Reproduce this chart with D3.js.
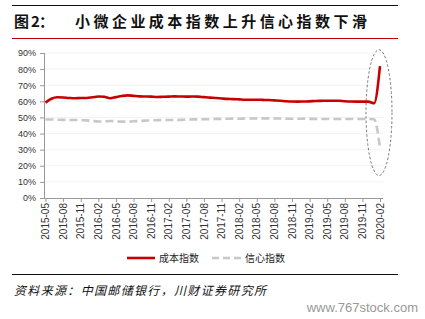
<!DOCTYPE html>
<html>
<head>
<meta charset="utf-8">
<script src="https://cdn.jsdelivr.net/npm/d3@7"></script>
<style>
  html, body { margin: 0; padding: 0; background: #fff; }
  svg { display: block; }
  .cjk { font-family: "Noto Sans CJK SC", sans-serif; }
  .axis text { font-family: "Liberation Sans", Arial, sans-serif; font-size: 9px; fill: #333; }
  .axis line { stroke: #999; }
</style>
</head>
<body>
<div id="chart"></div>
<script>
// monthly, 2015-05 .. 2020-02
var months = [];
for (var yr = 2015; yr <= 2020; yr++) {
  for (var m = 1; m <= 12; m++) {
    if (yr === 2015 && m < 5) continue;
    if (yr === 2020 && m > 2) break;
    months.push(yr + "-" + (m < 10 ? "0" + m : m));
  }
}

var costIndex = [
  59.2, 61.6, 62.5, 62.4, 62.1, 61.9, 62.1, 62.1, 62.5, 63.0,
  62.8, 61.9, 62.6, 63.3, 63.7, 63.4, 63.1, 63.0, 62.9, 62.7,
  62.8, 62.9, 63.1, 63.0, 62.9, 63.0, 62.9, 62.6, 62.3, 62.1,
  61.8, 61.5, 61.4, 61.2, 61.0, 61.0, 61.0, 60.9, 60.8, 60.6,
  60.4, 60.1, 59.9, 59.8, 59.9, 60.0, 60.2, 60.3, 60.4, 60.4,
  60.4, 60.1, 59.9, 59.8, 59.8, 59.8, 58.8, 81.9
];

var confIndex = [
  48.7, 48.7, 48.6, 48.5, 48.4, 48.4, 48.3, 48.2, 47.8, 47.5,
  47.5, 47.8, 47.6, 47.4, 47.4, 47.6, 47.8, 48.0, 48.2, 48.3,
  48.4, 48.4, 48.4, 48.5, 48.7, 48.8, 48.8, 48.9, 48.9, 49.1,
  49.1, 49.2, 49.2, 49.2, 49.3, 49.3, 49.4, 49.4, 49.4, 49.3,
  49.3, 49.2, 49.2, 49.2, 49.2, 49.1, 49.1, 49.0, 49.0, 49.0,
  49.0, 49.0, 49.0, 49.0, 49.0, 49.0, 48.9, 31.2
];

var yTicks = [0, 10, 20, 30, 40, 50, 60, 70, 80, 90];
var seriesNames = ["成本指数", "信心指数"];
var titleNo = "图 2：";
var titleText = "小微企业成本指数上升信心指数下滑";
var sourceText = "资料来源：中国邮储银行，川财证券研究所";
var watermark = "www.767stock.com";

var W = 425, H = 319;
var svg = d3.select("#chart").append("svg").attr("width", W).attr("height", H);

// header rules and title
svg.append("line").attr("x1", 12).attr("x2", 398).attr("y1", 5.5).attr("y2", 5.5)
  .attr("stroke", "#111").attr("stroke-width", 1.2);
svg.append("line").attr("x1", 12).attr("x2", 398).attr("y1", 38.5).attr("y2", 38.5)
  .attr("stroke", "#c00000").attr("stroke-width", 1.2);
svg.append("text").attr("class", "cjk").attr("x", 14).attr("y", 27)
  .attr("font-size", 15).attr("font-weight", "bold").attr("fill", "#111")
  .attr("textLength", 40).attr("lengthAdjust", "spacing")
  .text(titleNo);
svg.append("text").attr("class", "cjk").attr("x", 75).attr("y", 27)
  .attr("font-size", 15).attr("font-weight", "bold").attr("fill", "#111")
  .attr("textLength", 292).attr("lengthAdjust", "spacing")
  .text(titleText);

var x = d3.scalePoint().domain(months).range([45.5, 380]);
var y = d3.scaleLinear().domain([0, 90]).range([198, 53]);

// faint horizontal grid
svg.append("g").selectAll("line").data(yTicks.slice(1)).enter().append("line")
  .attr("x1", 44).attr("x2", 383)
  .attr("y1", function (d) { return y(d); }).attr("y2", function (d) { return y(d); })
  .attr("stroke", "#f3f3f3");

// y axis
var yAxis = svg.append("g").attr("class", "axis").attr("transform", "translate(44,0)")
  .call(d3.axisLeft(y).tickValues(yTicks).tickSize(4).tickPadding(4)
    .tickFormat(function (d) { return d + "%"; }));
yAxis.select(".domain").remove();
svg.append("line").attr("x1", 44.5).attr("x2", 44.5).attr("y1", y(90)).attr("y2", y(0))
  .attr("stroke", "#999");

// x axis
var xTicks = months.filter(function (d, i) { return i % 3 === 0; });
var xAxis = svg.append("g").attr("class", "axis").attr("transform", "translate(0,198)")
  .call(d3.axisBottom(x).tickValues(xTicks).tickSize(4).tickSizeOuter(0));
xAxis.select(".domain").remove();
xAxis.selectAll("text")
  .attr("transform", "rotate(-90)")
  .attr("text-anchor", "end")
  .attr("x", -5).attr("y", 0).attr("dy", "0.32em")
  .style("font-size", "10px");
svg.append("line").attr("x1", 44).attr("x2", 383).attr("y1", 198.5).attr("y2", 198.5)
  .attr("stroke", "#999");

// lines
var line = function (vals) {
  return d3.line()
    .x(function (d, i) { return x(months[i]); })
    .y(function (d) { return y(d); })
    .curve(d3.curveMonotoneX)(vals);
};
svg.append("path").attr("d", line(confIndex)).attr("fill", "none")
  .attr("stroke", "#c8c8c8").attr("stroke-width", 2.6).attr("stroke-dasharray", "8,4");
svg.append("path").attr("d", line(costIndex)).attr("fill", "none")
  .attr("stroke", "#c80000").attr("stroke-width", 2.6);

// annotation ellipse around the last two months
var last = months[months.length - 1];
svg.append("ellipse")
  .attr("cx", x(last) - 1).attr("cy", (y(92) + y(14)) / 2)
  .attr("rx", 13).attr("ry", (y(14) - y(92)) / 2)
  .attr("fill", "none").attr("stroke", "#666").attr("stroke-width", 0.9)
  .attr("stroke-dasharray", "2.5,2");

// legend
var leg = svg.append("g").attr("transform", "translate(0,258)");
leg.append("line").attr("x1", 127).attr("x2", 155).attr("y1", 0).attr("y2", 0)
  .attr("stroke", "#c80000").attr("stroke-width", 2.6);
leg.append("text").attr("class", "cjk").attr("x", 159).attr("y", 3.5)
  .attr("font-size", 10).attr("fill", "#222").text(seriesNames[0]);
leg.append("line").attr("x1", 212).attr("x2", 241).attr("y1", 0).attr("y2", 0)
  .attr("stroke", "#c8c8c8").attr("stroke-width", 2.6).attr("stroke-dasharray", "7,4");
leg.append("text").attr("class", "cjk").attr("x", 245).attr("y", 3.5)
  .attr("font-size", 10).attr("fill", "#222").text(seriesNames[1]);

// footer
svg.append("line").attr("x1", 12).attr("x2", 398).attr("y1", 274.5).attr("y2", 274.5)
  .attr("stroke", "#111").attr("stroke-width", 1);
svg.append("text").attr("class", "cjk").attr("x", 14).attr("y", 295)
  .attr("font-size", 12).attr("font-style", "italic").attr("fill", "#111")
  .attr("textLength", 252).attr("lengthAdjust", "spacing")
  .text(sourceText);
svg.append("text").attr("x", 418).attr("y", 312).attr("text-anchor", "end")
  .attr("font-family", "'Liberation Sans', Arial, sans-serif")
  .attr("font-size", 13).attr("fill", "#999").text(watermark);
</script>
</body>
</html>
